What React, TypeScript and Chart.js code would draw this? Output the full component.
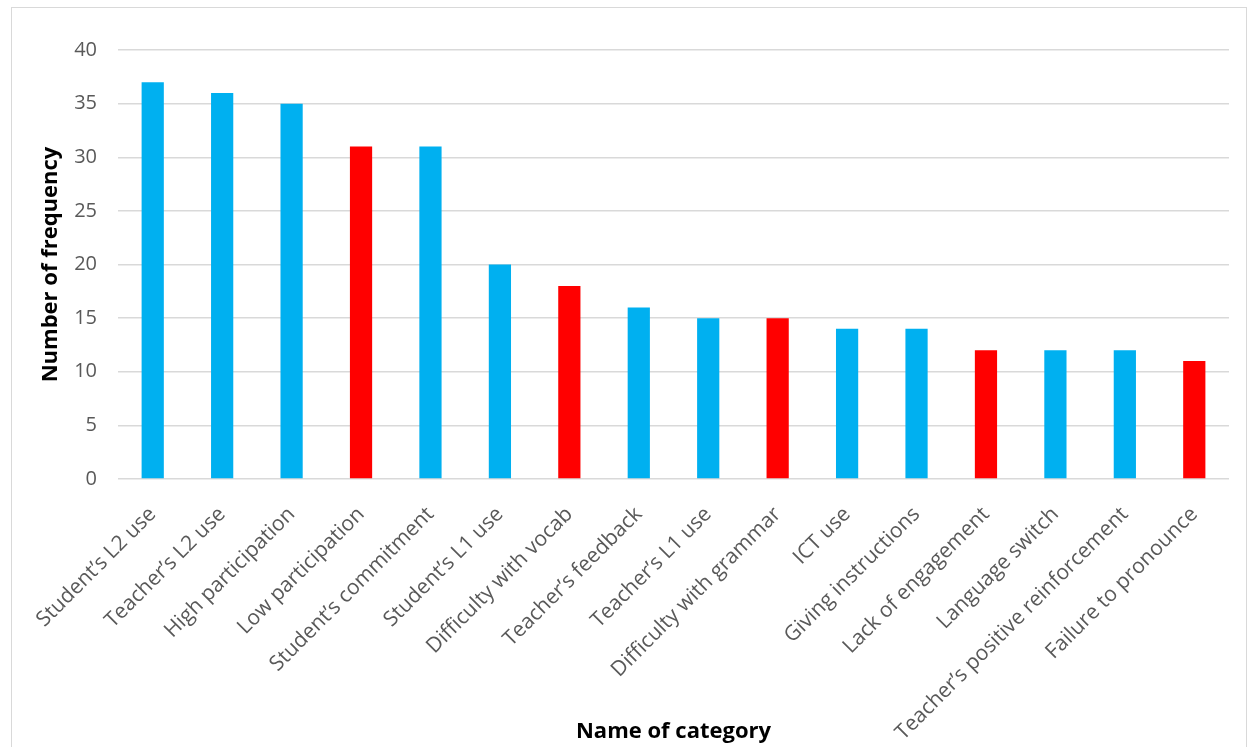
import React, { useEffect, useRef } from "react";
import { Chart, registerables } from "chart.js";

Chart.register(...registerables);

const categories = [
  "Student’s L2 use",
  "Teacher’s L2 use",
  "High participation",
  "Low participation",
  "Student’s commitment",
  "Student’s L1 use",
  "Difficulty with vocab",
  "Teacher’s feedback",
  "Teacher’s L1 use",
  "Difficulty with grammar",
  "ICT use",
  "Giving instructions",
  "Lack of engagement",
  "Language switch",
  "Teacher’s positive reinforcement",
  "Failure to pronounce",
];

const frequencies = [37, 36, 35, 31, 31, 20, 18, 16, 15, 15, 14, 14, 12, 12, 12, 11];

const negativeCategories = [
  "Low participation",
  "Difficulty with vocab",
  "Difficulty with grammar",
  "Lack of engagement",
  "Failure to pronounce",
];

const BLUE = "#00B0F0";
const RED = "#FF0000";
const FONT = "'Open Sans', 'DejaVu Sans', sans-serif";

export default function App() {
  const ref = useRef<HTMLCanvasElement>(null);

  useEffect(() => {
    const canvas = ref.current;
    if (!canvas) return;
    const colors = categories.map((c) => (negativeCategories.includes(c) ? RED : BLUE));
    const chart = new Chart(canvas, {
      type: "bar",
      data: {
        labels: categories,
        datasets: [
          {
            data: frequencies,
            backgroundColor: colors,
            borderWidth: 0,
            barPercentage: 1,
            categoryPercentage: 0.32,
          },
        ],
      },
      options: {
        responsive: false,
        animation: false,
        layout: { padding: { top: 42, right: 16, left: 0, bottom: 0 } },
        plugins: {
          legend: { display: false },
          tooltip: { enabled: false },
        },
        scales: {
          x: {
            grid: { display: false, drawTicks: false },
            border: { display: false },
            ticks: {
              minRotation: 45,
              maxRotation: 45,
              autoSkip: false,
              padding: 23,
              color: "#595959",
              font: { family: FONT, size: 21 },
            },
            title: {
              display: true,
              text: "Name of category",
              color: "#000000",
              font: { family: "'Open Sans', sans-serif", size: 22, weight: "bold" },
              padding: { top: 0, bottom: 3 },
            },
            afterFit: (scale: any) => {
              scale.height = 740 - 471;
            },
          },
          y: {
            min: 0,
            max: 40,
            ticks: {
              stepSize: 5,
              padding: 21,
              color: "#595959",
              font: { family: FONT, size: 20 },
            },
            grid: { color: "#D9D9D9", lineWidth: 1.5, drawTicks: false },
            border: { display: false },
            title: {
              display: true,
              text: "Number of frequency",
              color: "#000000",
              font: { family: "'Open Sans', sans-serif", size: 22, weight: "bold" },
              padding: { top: 26, bottom: 0 },
            },
            afterFit: (scale: any) => {
              scale.width = 106;
            },
          },
        },
      },
    });
    return () => chart.destroy();
  }, []);

  return (
    <div
      style={{
        position: "absolute",
        left: 11,
        top: 7,
        width: 1236,
        height: 760,
        border: "1.5px solid #D9D9D9",
        boxSizing: "border-box",
        background: "#fff",
      }}
    >
      <canvas ref={ref} width={1233} height={740} style={{ display: "block" }} />
    </div>
  );
}
